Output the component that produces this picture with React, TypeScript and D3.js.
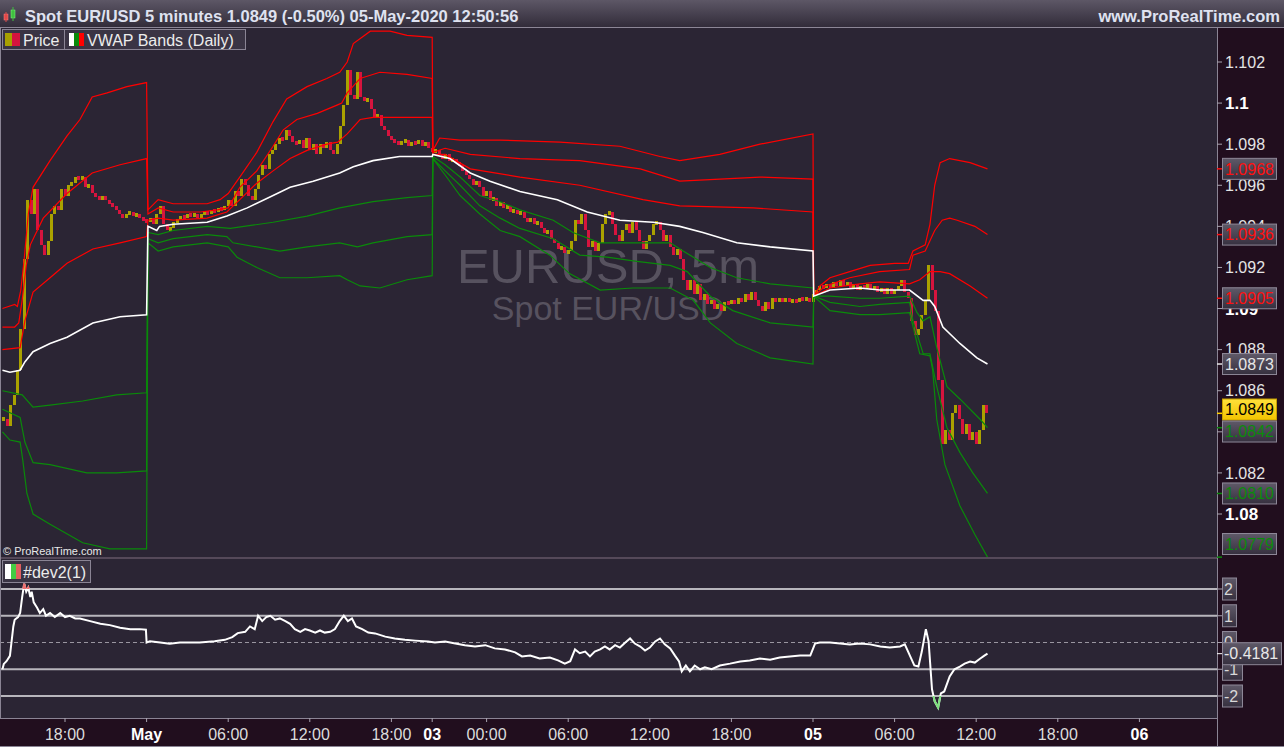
import React from "react";
import * as d3 from "d3";

type Knot = [number, number];

// ---------- DATA ----------
// 15-minute closes (hour index: Apr 30 00:00 = 0, weekend gap removed)
const firstBarHour = 13.5;
const barHours = 0.25;
const closeApr30: number[] = [
  1.0846, 1.0843, 1.0853, 1.0858, 1.087, 1.089, 1.0924, 1.0953, 1.0946, 1.0958,
  1.0938, 1.0931, 1.0926, 1.0933, 1.0946, 1.095, 1.0948, 1.0958, 1.0955, 1.096,
  1.0961, 1.0964, 1.0963, 1.0964, 1.0959, 1.096, 1.0956, 1.0955, 1.0953, 1.0955,
  1.0953, 1.0951, 1.095, 1.0948, 1.0946, 1.0944, 1.0946, 1.0947, 1.0945, 1.0946,
  1.0944, 1.0943,
];
const closeMay1: number[] = [
  1.0942, 1.0944, 1.0941, 1.0946, 1.095, 1.0941, 1.0938, 1.0939, 1.0942, 1.0943,
  1.0945, 1.0944, 1.0946, 1.0945, 1.0946, 1.0944, 1.0946, 1.0947, 1.0946, 1.0948,
  1.0947, 1.0949, 1.0948, 1.095, 1.0953, 1.095, 1.0957, 1.0955, 1.0963, 1.096,
  1.0955, 1.0953, 1.0958, 1.0965, 1.097, 1.0968, 1.0975, 1.0977, 1.098, 1.0983,
  1.0982, 1.0987, 1.0984, 1.0981, 1.098, 1.0982, 1.0978, 1.0983, 1.0977, 1.098,
  1.0975, 1.098, 1.0978, 1.0981, 1.0977, 1.0975, 1.098, 1.0989, 1.0999, 1.1016,
  1.1004, 1.1002, 1.1015, 1.1003, 1.1001, 1.1002, 1.0997, 1.0993, 1.0994, 1.0989,
  1.0987, 1.0984, 1.0982, 1.0981, 1.098, 1.0981, 1.0982, 1.0979, 1.0981, 1.098,
  1.0982, 1.0979, 1.0981, 1.0978,
];
const closeMay3to4: number[] = [
  1.0976, 1.0977, 1.0975, 1.0973, 1.0975, 1.0972, 1.0973, 1.0971, 1.097, 1.0967,
  1.0965, 1.0963, 1.096, 1.0962, 1.0959, 1.0955, 1.0957, 1.0953, 1.0954, 1.095,
  1.0952, 1.0949, 1.095, 1.0947, 1.0948, 1.0946, 1.0947, 1.0944, 1.0942, 1.0944,
  1.0941, 1.0942, 1.0939, 1.0937, 1.0938, 1.0934, 1.0932, 1.0929, 1.093, 1.0927,
  1.0928, 1.0933, 1.0943, 1.0941, 1.0946, 1.0938, 1.093, 1.0933, 1.0928, 1.0932,
  1.0941, 1.0946, 1.0947, 1.0941, 1.0936, 1.0933, 1.0938, 1.0941, 1.0937, 1.0942,
  1.0938, 1.0933, 1.0929, 1.0933, 1.0936, 1.0941, 1.0942, 1.0938, 1.0933, 1.0936,
  1.093, 1.0926, 1.0929, 1.0924, 1.0914, 1.0909, 1.0914, 1.0907, 1.0912, 1.0904,
  1.0907, 1.0902, 1.0904, 1.09, 1.0902, 1.0899, 1.0903, 1.0902, 1.0904, 1.0902,
  1.0905, 1.0903, 1.0907, 1.0904, 1.0908, 1.0904, 1.0901, 1.0899, 1.0903, 1.09,
  1.0905, 1.0903, 1.0905, 1.0903, 1.0905, 1.0903, 1.0904, 1.0903, 1.0905, 1.0904,
  1.0905, 1.0903,
];
const closeMay5: number[] = [
  1.0907, 1.0909, 1.0911, 1.091, 1.0912, 1.091, 1.0913, 1.0911, 1.0914, 1.0911,
  1.0913, 1.091, 1.0912, 1.0909, 1.0911, 1.091, 1.0912, 1.0909, 1.0911, 1.0908,
  1.091, 1.0907, 1.091, 1.0907, 1.0909, 1.0911, 1.0914, 1.0908, 1.0905, 1.0894,
  1.0887, 1.089, 1.0897, 1.0904, 1.0921, 1.0909, 1.0899, 1.0865, 1.0834, 1.0841,
  1.0836, 1.0849, 1.0853, 1.0846, 1.0839, 1.0844, 1.0836, 1.084, 1.0834, 1.0841,
  1.0853, 1.0849,
];

// VWAP bands (daily) – knots [hour, price]
const upperBand3: Knot[] = [
  [13.4, 1.09], [14.3, 1.0902], [14.5, 1.0901], [14.75, 1.0909], [15.0, 1.0924], [15.3, 1.0946], [15.65, 1.0959], [16.9, 1.0972], [18.15, 1.0984], [19.1, 1.0992], [20.0, 1.1003], [21.1, 1.1005], [22.55, 1.1008], [24, 1.101],
  [24.1, 1.0948], [24.85, 1.0953], [25.95, 1.0951], [28.45, 1.0951], [29.4, 1.0953], [30.0, 1.0956], [30.85, 1.0964], [32.1, 1.0976], [33.3, 1.0991], [34.3, 1.1002], [35.8, 1.1008], [37.25, 1.1012], [38.2, 1.1015], [38.75, 1.102], [39.2, 1.1029], [40.45, 1.1035], [41.9, 1.1035], [43.15, 1.1033], [45, 1.1032],
  [45.05, 1.0977], [45.55, 1.0983], [47.05, 1.0982], [50, 1.0982], [54.4, 1.0981], [58.8, 1.0979], [61.75, 1.0974], [63.2, 1.0972], [66.15, 1.0975], [69.1, 1.098], [73, 1.0985],
  [73.05, 1.0906], [73.5, 1.0911], [74.25, 1.0915], [75.7, 1.0918], [77.2, 1.0921], [79.0, 1.0922], [80.0, 1.0922], [80.35, 1.0928], [81.25, 1.0931], [81.6, 1.0941], [81.95, 1.096], [82.35, 1.0971], [83.05, 1.0973], [84.55, 1.0971], [85.83, 1.0968],
];
const upperBand2: Knot[] = [
  [13.4, 1.0891], [14.3, 1.0891], [14.6, 1.0893], [14.85, 1.0904], [15.15, 1.0921], [15.45, 1.0931], [16.4, 1.0944], [18.15, 1.0956], [20.0, 1.0966], [22.05, 1.097], [24, 1.0973],
  [24.1, 1.0946], [24.85, 1.0949], [25.95, 1.0947], [27.95, 1.0947], [29.2, 1.0948], [30.0, 1.0949], [30.85, 1.0959], [32.1, 1.0967], [33.3, 1.0979], [34.05, 1.0987], [35.05, 1.0992], [36.55, 1.0995], [38.0, 1.0999], [38.35, 1.1], [38.75, 1.1005], [39.7, 1.1012], [41.15, 1.1015], [43.15, 1.1014], [45, 1.1012],
  [45.05, 1.0976], [45.95, 1.0978], [47.8, 1.0975], [51.45, 1.0973], [55.85, 1.0972], [60.3, 1.0968], [63.2, 1.0962], [66.15, 1.0963], [69.1, 1.0964], [73, 1.0963],
  [73.05, 1.0906], [73.9, 1.0911], [75.7, 1.0915], [77.9, 1.0918], [80.1, 1.0919], [80.35, 1.0926], [81.25, 1.0928], [81.6, 1.0933], [81.95, 1.0938], [82.5, 1.0943], [83.05, 1.0944], [83.6, 1.0943], [84.9, 1.094], [85.83, 1.0936],
];
const upperBand1: Knot[] = [
  [13.4, 1.088], [14.7, 1.0881], [15.05, 1.0894], [15.65, 1.0908], [16.9, 1.0915], [18.15, 1.0922], [20.05, 1.0929], [22.05, 1.0932], [24, 1.0935],
  [24.1, 1.0943], [24.85, 1.0944], [25.95, 1.0943], [28.45, 1.0944], [29.9, 1.0947], [30.85, 1.0953], [32.1, 1.0961], [33.3, 1.0967], [34.55, 1.0973], [35.8, 1.0977], [37.25, 1.098], [38.05, 1.0981], [38.75, 1.0985], [39.7, 1.0992], [40.65, 1.0993], [42.1, 1.0993], [45, 1.0993],
  [45.05, 1.0975], [45.95, 1.0975], [47.8, 1.0968], [51.45, 1.0964], [55.85, 1.096], [60.5, 1.0953], [63.2, 1.095], [68.6, 1.0949], [73, 1.0947],
  [73.05, 1.0906], [74.25, 1.091], [76.45, 1.0912], [77.9, 1.0913], [80.1, 1.0912], [80.85, 1.0914], [81.6, 1.0918], [82.35, 1.0918], [83.05, 1.0917], [84.55, 1.0911], [85.83, 1.0905],
];
const vwapLine: Knot[] = [
  [13.4, 1.087], [13.95, 1.0869], [14.7, 1.087], [15.05, 1.0874], [15.65, 1.0879], [16.9, 1.0883], [18.15, 1.0886], [20.05, 1.0893], [22.05, 1.0896], [24, 1.0897],
  [24.1, 1.094], [24.75, 1.0938], [24.95, 1.094], [25.95, 1.0941], [28.45, 1.0942], [29.9, 1.0945], [31.4, 1.0949], [33.3, 1.0955], [34.55, 1.0959], [36.25, 1.0962], [38.2, 1.0966], [39.2, 1.0969], [40.65, 1.0972], [42.6, 1.0974], [45, 1.0974],
  [45.05, 1.0975], [46.3, 1.0973], [47.8, 1.0966], [49.25, 1.0962], [51.45, 1.0957], [54.2, 1.0953], [56.4, 1.0947], [58.8, 1.0943], [61.25, 1.0942], [63.2, 1.094], [64.9, 1.0937], [67.4, 1.0932], [69.85, 1.093], [73, 1.0928],
  [73.05, 1.0906], [74.25, 1.0909], [76.45, 1.091], [77.9, 1.0909], [80.1, 1.0909], [81.1, 1.0904], [81.6, 1.0904], [81.95, 1.0901], [82.55, 1.0891], [83.8, 1.0883], [85.05, 1.0876], [85.83, 1.0873],
];
const lowerBand1: Knot[] = [
  [13.4, 1.086], [14.85, 1.0858], [15.65, 1.0852], [16.9, 1.0853], [19.3, 1.0855], [21.8, 1.0858], [24, 1.0859],
  [24.1, 1.0937], [24.85, 1.0936], [25.95, 1.0938], [28.45, 1.094], [30.15, 1.0939], [33.3, 1.0942], [35.8, 1.0945], [38.2, 1.0949], [40.65, 1.0952], [43.15, 1.0954], [45, 1.0955],
  [45.05, 1.0974], [45.95, 1.097], [47.05, 1.0964], [48.5, 1.0955], [50, 1.0952], [51.45, 1.0948], [53.9, 1.0943], [55.35, 1.0937], [57.35, 1.0932], [59.75, 1.0932], [62.5, 1.0932], [63.45, 1.0928], [65.45, 1.092], [67.4, 1.0915], [69.85, 1.0912], [73, 1.091],
  [73.05, 1.0906], [74.25, 1.0906], [76.45, 1.0905], [77.9, 1.0905], [80.1, 1.0906], [80.65, 1.0898], [81.1, 1.0894], [81.6, 1.0896], [82.1, 1.0881], [82.85, 1.0862], [83.8, 1.0856], [85.3, 1.0846], [85.83, 1.0842],
];
const lowerBand2: Knot[] = [
  [13.4, 1.0851], [14.7, 1.0847], [15.05, 1.0835], [15.65, 1.0825], [16.9, 1.0824], [19.6, 1.082], [21.8, 1.082], [24, 1.0821],
  [24.1, 1.0934], [24.85, 1.0932], [25.95, 1.0934], [28.45, 1.0936], [29.9, 1.0935], [30.35, 1.0932], [32.1, 1.093], [33.8, 1.0928], [35.8, 1.093], [38.2, 1.0932], [39.5, 1.093], [40.65, 1.0932], [43.15, 1.0935], [45, 1.0936],
  [45.05, 1.0973], [45.95, 1.0967], [47.05, 1.096], [48.5, 1.095], [50, 1.0944], [51.45, 1.0939], [53.9, 1.0934], [55.85, 1.0926], [57.85, 1.0925], [60.05, 1.0923], [62.5, 1.0921], [63.75, 1.0918], [65.45, 1.0906], [67.1, 1.0899], [69.85, 1.0893], [73, 1.0891],
  [73.05, 1.0906], [74.25, 1.0903], [76.45, 1.0901], [77.9, 1.0902], [80.1, 1.0903], [80.35, 1.0894], [81.1, 1.0878], [81.6, 1.0878], [82.1, 1.0862], [82.85, 1.0842], [83.8, 1.083], [84.75, 1.082], [85.83, 1.081],
];
const lowerBand3: Knot[] = [
  [13.4, 1.084], [13.95, 1.0836], [14.7, 1.0835], [14.9, 1.0826], [15.2, 1.081], [15.65, 1.08], [16.9, 1.0795], [19.3, 1.0786], [21.3, 1.0783], [24, 1.0783],
  [24.1, 1.0932], [24.85, 1.0928], [25.95, 1.093], [28.45, 1.0932], [30.0, 1.093], [30.65, 1.0925], [32.1, 1.092], [33.8, 1.0915], [35.8, 1.0915], [38.2, 1.0916], [38.75, 1.0914], [39.7, 1.0911], [41.15, 1.091], [43.15, 1.0914], [45, 1.0916],
  [45.05, 1.0973], [45.95, 1.0965], [47.05, 1.0955], [48.5, 1.0946], [50, 1.0938], [51.45, 1.0935], [53.65, 1.0926], [55.1, 1.0917], [57.35, 1.0909], [59.75, 1.091], [62.5, 1.091], [64.2, 1.0904], [65.45, 1.0893], [67.4, 1.0883], [69.85, 1.0876], [73, 1.0873],
  [73.05, 1.0906], [74.25, 1.0899], [76.45, 1.0897], [77.9, 1.0897], [80.1, 1.0898], [80.85, 1.0878], [81.6, 1.0877], [81.8, 1.087], [82.1, 1.0846], [82.7, 1.0824], [83.8, 1.0804], [84.9, 1.079], [85.83, 1.0779],
];

// #dev2(1) indicator – knots [hour, value]
const dev2: Knot[] = [
  [13.4, -1.0], [13.5, -0.8], [13.7, -0.7], [13.95, -0.5], [14.2, 0.6], [14.3, 0.85], [14.55, 0.95], [14.7, 1.1], [14.85, 1.7], [15.0, 2.2], [15.15, 1.9], [15.3, 2.05], [15.45, 1.7], [15.55, 1.9], [15.7, 1.5], [15.95, 1.3], [16.15, 1.1], [16.4, 1.25], [16.6, 1.0], [16.9, 1.1], [17.25, 0.95], [17.65, 1.1], [18.0, 0.95], [18.35, 1.0], [18.75, 0.9], [19.1, 0.9], [19.85, 0.8], [20.6, 0.7], [21.3, 0.65], [22.05, 0.55], [22.8, 0.5], [23.5, 0.5], [23.95, 0.48], [24.0, 0],
  [24.25, 0.05], [25.0, 0], [25.7, -0.05], [26.45, 0], [27.9, 0], [29.0, 0.05], [29.75, 0.1], [30.3, 0.2], [30.7, 0.35], [31.25, 0.4], [31.6, 0.6], [31.95, 0.5], [32.2, 1.0], [32.5, 0.8], [32.8, 0.95], [33.1, 1.0], [33.45, 0.85], [33.8, 0.9], [34.2, 0.8], [34.55, 0.7], [34.9, 0.5], [35.3, 0.4], [35.65, 0.5], [36.0, 0.45], [36.4, 0.37], [36.75, 0.45], [37.1, 0.37], [37.5, 0.4], [37.85, 0.5], [38.2, 0.8], [38.5, 1.0], [38.8, 0.8], [39.1, 0.9], [39.4, 0.6], [39.85, 0.5], [40.3, 0.37], [40.8, 0.34], [41.55, 0.22], [42.25, 0.15], [43.0, 0.1], [43.75, 0.07], [44.7, 0.04],
  [45.2, 0], [45.95, 0.04], [46.7, -0.04], [47.4, -0.1], [48.15, -0.15], [48.9, -0.1], [49.6, -0.22], [50.35, -0.26], [51.1, -0.37], [51.6, -0.52], [52.2, -0.49], [52.9, -0.6], [53.65, -0.56], [54.25, -0.67], [54.75, -0.79], [55.15, -0.7], [55.5, -0.26], [55.85, -0.4], [56.25, -0.34], [56.6, -0.52], [56.95, -0.34], [57.35, -0.26], [57.7, -0.15], [58.05, -0.26], [58.45, -0.1], [58.8, -0.19], [59.2, 0], [59.55, 0.15], [59.9, -0.04], [60.3, -0.15], [60.65, -0.3], [61.0, -0.19], [61.4, 0.04], [61.75, 0.15], [62.1, -0.07], [62.5, -0.22], [62.85, -0.49], [63.15, -0.71], [63.35, -1.08], [63.65, -0.86], [63.95, -1.08], [64.3, -0.86], [64.7, -1.0], [65.05, -0.93], [65.55, -1.0], [66.15, -0.86], [66.9, -0.79], [67.65, -0.71], [68.35, -0.67], [69.1, -0.6], [69.85, -0.64], [70.55, -0.56], [71.3, -0.52], [72.05, -0.49], [72.8, -0.49],
  [73.15, -0.04], [73.5, 0], [74.25, 0], [75.0, -0.04], [75.7, -0.07], [76.45, -0.04], [77.2, -0.07], [77.95, -0.15], [78.65, -0.19], [79.4, -0.15], [79.75, -0.07], [80.15, -0.52], [80.45, -0.86], [80.75, -0.9], [81.0, -0.34], [81.3, 0.5], [81.5, 0.04], [81.75, -1.75], [81.95, -2.2], [82.2, -2.43], [82.4, -1.9], [82.65, -1.83], [83.05, -1.27], [83.4, -1.0], [83.8, -0.9], [84.15, -0.79], [84.55, -0.71], [84.9, -0.75], [85.3, -0.6], [85.6, -0.49], [85.83, -0.4181],
];

const priceTicks = [1.08, 1.082, 1.084, 1.086, 1.088, 1.09, 1.092, 1.094, 1.096, 1.098, 1.1, 1.102];
const timeTickHours = [18, 24, 30, 36, 42, 45, 49, 55, 61, 67, 73, 79, 85, 91, 97];
const timeTickLabels = ["18:00", "May", "06:00", "12:00", "18:00", "03", "00:00", "06:00", "12:00", "18:00", "05", "06:00", "12:00", "18:00", "06"];
const boldTimeLabels = ["May", "03", "05", "06"];
const devLevels = [2, 1, 0, -1, -2];

const FONT = "'Liberation Sans', Arial, Helvetica, sans-serif";

export default function App() {
  const W = 1284, H = 747;
  const plotR = 1217;
  const mainTop = 28, mainBot = 557, subTop = 559, subBot = 718;

  const x = d3.scaleLinear().domain([18, 97]).range([65, 1139.4]);
  const y = d3.scaleLinear().domain([1.08, 1.102]).range([514, 62]);
  const yd = d3.scaleLinear().domain([-2, 2]).range([696, 589]);

  const closes = [...closeApr30, ...closeMay1, ...closeMay3to4, ...closeMay5];
  const bars = closes.map((c, i) => ({ h: firstBarHour + i * barHours, o: i ? closes[i - 1] : c, c }));
  const lastClose = closes[closes.length - 1];

  const line = d3.line<Knot>().x((d) => x(d[0])).y((d) => y(d[1]));
  const devLine = d3.line<Knot>().x((d) => x(d[0])).y((d) => yd(d[1]));

  const RED = "#ff0000", GREEN = "#0a8a0a";
  const bands = [
    { data: upperBand3, color: RED, w: 1.2 },
    { data: upperBand2, color: RED, w: 1.2 },
    { data: upperBand1, color: RED, w: 1.2 },
    { data: lowerBand1, color: GREEN, w: 1.2 },
    { data: lowerBand2, color: GREEN, w: 1.2 },
    { data: lowerBand3, color: GREEN, w: 1.2 },
    { data: vwapLine, color: "#ffffff", w: 1.6 },
  ];

  const lastOf = (k: Knot[]) => k[k.length - 1][1];
  type Tag = { v: number; fg: string; yellow?: boolean; cy: number };
  const tags: Tag[] = [
    { v: lastOf(upperBand3), fg: "#ff1010", cy: 0 },
    { v: lastOf(upperBand2), fg: "#ff1010", cy: 0 },
    { v: lastOf(upperBand1), fg: "#ff1010", cy: 0 },
    { v: lastOf(vwapLine), fg: "#e6e6e6", cy: 0 },
    { v: lastClose, fg: "#000000", yellow: true, cy: 0 },
    { v: lastOf(lowerBand1), fg: "#0c8a0c", cy: 0 },
    { v: lastOf(lowerBand2), fg: "#0c8a0c", cy: 0 },
    { v: lastOf(lowerBand3), fg: "#0c8a0c", cy: 0 },
  ];
  tags.forEach((t) => (t.cy = y(t.v)));
  tags.sort((a, b) => a.cy - b.cy);
  const TH = 22;
  for (let it = 0; it < 10; it++) {
    for (let i = 1; i < tags.length; i++) {
      const a = tags[i - 1], b = tags[i];
      if (b.cy - a.cy < TH) {
        const m = (a.cy + b.cy) / 2;
        a.cy = m - TH / 2;
        b.cy = m + TH / 2;
      }
    }
    const maxC = mainBot - 2 - TH / 2;
    if (tags[tags.length - 1].cy > maxC) tags[tags.length - 1].cy = maxC;
  }

  const devLast = lastOf(dev2);

  return (
    <div style={{ position: "absolute", left: 0, top: 0, width: W, height: H }}>
      <svg width={W} height={H} style={{ display: "block", fontFamily: FONT }}>
        <defs>
          <linearGradient id="titleG" x1="0" y1="0" x2="0" y2="1">
            <stop offset="0" stopColor="#5d5766" />
            <stop offset="1" stopColor="#302a38" />
          </linearGradient>
          <linearGradient id="boxG" x1="0" y1="0" x2="0" y2="1">
            <stop offset="0" stopColor="#5f5968" />
            <stop offset="1" stopColor="#36303f" />
          </linearGradient>
          <linearGradient id="yelG" x1="0" y1="0" x2="0" y2="1">
            <stop offset="0" stopColor="#ffe03a" />
            <stop offset="1" stopColor="#f2c400" />
          </linearGradient>
          <clipPath id="mainClip">
            <rect x={1} y={mainTop + 1} width={plotR - 1} height={mainBot - mainTop - 1} />
          </clipPath>
          <clipPath id="subClip">
            <rect x={1} y={subTop} width={plotR - 1} height={subBot - subTop} />
          </clipPath>
          <clipPath id="hiClip">
            <rect x={0} y={subTop} width={plotR} height={yd(2) - subTop} />
          </clipPath>
          <clipPath id="loClip">
            <rect x={0} y={yd(-2)} width={plotR} height={subBot - yd(-2)} />
          </clipPath>
        </defs>

        {/* backgrounds */}
        <rect x={0} y={0} width={W} height={H} fill="#210e1e" />
        <rect x={0} y={mainTop} width={plotR} height={mainBot - mainTop} fill="#2b2534" />
        <rect x={0} y={subTop} width={plotR} height={subBot - subTop} fill="#2b2534" />
        <line x1={0} x2={plotR} y1={mainBot + 1} y2={mainBot + 1} stroke="#8a8494" strokeWidth={1} />
        <line x1={0.5} x2={0.5} y1={mainTop} y2={subBot} stroke="#8a8494" strokeWidth={1} />

        {/* title bar */}
        <rect x={0} y={0} width={W} height={mainTop} fill="url(#titleG)" />
        <line x1={0} x2={W} y1={mainTop - 0.5} y2={mainTop - 0.5} stroke="#8c8696" />
        <rect x={4} y={14} width={4} height={6} fill="#e04848" stroke="#ff8080" strokeWidth={0.5} />
        <line x1={6} x2={6} y1={12} y2={22} stroke="#e04848" />
        <rect x={11} y={10} width={4} height={8} fill="#40c040" stroke="#80ff80" strokeWidth={0.5} />
        <line x1={13} x2={13} y1={7} y2={21} stroke="#40c040" />
        <text x={25} y={22} fontSize={16.5} fontWeight="bold" fill="#dfe2f0">
          Spot EUR/USD 5 minutes 1.0849 (-0.50%) 05-May-2020 12:50:56
        </text>
        <text x={1280} y={22} fontSize={16.5} fontWeight="bold" fill="#dfe2f0" textAnchor="end">
          www.ProRealTime.com
        </text>

        {/* watermark */}
        <text x={608} y={283} fontSize={49} fill="#57525f" textAnchor="middle">EURUSD, 5m</text>
        <text x={608} y={320} fontSize={34} fill="#57525f" textAnchor="middle">Spot EUR/USD</text>

        {/* price bars */}
        <g clipPath="url(#mainClip)" shapeRendering="crispEdges">
          {bars.map((b, i) => {
            const y1 = y(Math.max(b.o, b.c));
            const y2 = y(Math.min(b.o, b.c));
            const hgt = Math.max(4, y2 - y1);
            return (
              <rect
                key={i}
                x={x(b.h) - 1.5}
                y={y1 - (hgt - (y2 - y1)) / 2}
                width={3}
                height={hgt}
                fill={b.c >= b.o ? "#aaa200" : "#d6143e"}
              />
            );
          })}
        </g>

        {/* bands */}
        <g clipPath="url(#mainClip)" fill="none">
          {bands.map((b, i) => (
            <path key={i} d={line(b.data) || ""} stroke={b.color} strokeWidth={b.w} />
          ))}
        </g>

        {/* legend main */}
        <rect x={2.5} y={29.5} width={62} height={20} fill="#3a3444" stroke="#8a8494" />
        <rect x={5} y={33} width={7} height={13} fill="#a8a000" />
        <rect x={12} y={33} width={8} height={13} fill="#d6143e" />
        <text x={23} y={46} fontSize={16} fill="#ececec">Price</text>
        <rect x={64.5} y={29.5} width={181} height={20} fill="#3a3444" stroke="#8a8494" />
        <rect x={69} y={33} width={5} height={13} fill="#ffffff" />
        <rect x={74} y={33} width={5} height={13} fill="#0a8a0a" />
        <rect x={79} y={33} width={5} height={13} fill="#ff0000" />
        <text x={87} y={46} fontSize={16} fill="#ececec">VWAP Bands (Daily)</text>

        <text x={3} y={555} fontSize={11} fill="#e8e8e8">© ProRealTime.com</text>

        {/* sub panel */}
        <g clipPath="url(#subClip)">
          {devLevels.map((lv) => (
            <line
              key={lv}
              x1={0}
              x2={plotR}
              y1={yd(lv)}
              y2={yd(lv)}
              stroke={lv === 0 ? "#9a96a0" : "#b8b6bc"}
              strokeWidth={lv === 0 ? 1 : 2}
              strokeDasharray={lv === 0 ? "4,3" : undefined}
            />
          ))}
          <path d={devLine(dev2) || ""} fill="none" stroke="#ffffff" strokeWidth={2} />
          <path d={devLine(dev2) || ""} fill="none" stroke="#f07070" strokeWidth={2} clipPath="url(#hiClip)" />
          <path d={devLine(dev2) || ""} fill="none" stroke="#7ee07e" strokeWidth={2} clipPath="url(#loClip)" />
        </g>
        <rect x={2.5} y={560.5} width={88} height={22} fill="#3a3444" stroke="#8a8494" />
        <rect x={5} y={564} width={6} height={15} fill="#ffffff" />
        <rect x={11} y={564} width={5} height={15} fill="#44cc44" />
        <rect x={16} y={564} width={5} height={15} fill="#e06060" />
        <text x={23} y={578} fontSize={16} fill="#ececec">#dev2(1)</text>

        {/* axes lines */}
        <line x1={plotR + 0.5} x2={plotR + 0.5} y1={mainTop} y2={H} stroke="#8a8494" />
        <line x1={0} x2={plotR} y1={subBot + 0.5} y2={subBot + 0.5} stroke="#8a8494" />
        <line x1={0} x2={W} y1={H - 0.5} y2={H - 0.5} stroke="#8a8494" />

        {/* right price axis */}
        {priceTicks.map((v) => {
          const bold = Math.abs(v * 100 - Math.round(v * 100)) < 1e-6;
          return (
            <g key={v}>
              <line x1={plotR} x2={plotR + 5} y1={y(v)} y2={y(v)} stroke="#a8a4b0" />
              <text
                x={plotR + 8}
                y={y(v)}
                dy="0.36em"
                fontSize={bold ? 17 : 16}
                fontWeight={bold ? "bold" : "normal"}
                fill={bold ? "#ffffff" : "#e4e4e4"}
              >
                {String(Number(v.toFixed(3)))}
              </text>
            </g>
          );
        })}
        {tags.map((t, i) => (
          <g key={i}>
            <line x1={plotR} x2={plotR + 5} y1={y(t.v)} y2={y(t.v)} stroke={t.yellow ? "#ffd000" : t.fg} strokeWidth={1.5} />
            <rect
              x={plotR + 5.5}
              y={t.cy - TH / 2 + 0.5}
              width={54}
              height={TH - 1}
              fill={t.yellow ? "url(#yelG)" : "url(#boxG)"}
              stroke={t.yellow ? "#c8a000" : "#8d8797"}
            />
            <text x={plotR + 8} y={t.cy} dy="0.36em" fontSize={16} fill={t.fg}>
              {t.v.toFixed(4)}
            </text>
          </g>
        ))}

        {/* right dev axis */}
        {devLevels.map((lv) => {
          const label = String(lv);
          const wdt = 5 + 9 * label.replace("-", "").length + (lv < 0 ? 6 : 0);
          return (
            <g key={lv}>
              <line x1={plotR} x2={plotR + 5} y1={yd(lv)} y2={yd(lv)} stroke="#a8a4b0" />
              <rect x={plotR + 5.5} y={yd(lv) - 11} width={wdt} height={22} fill="url(#boxG)" stroke="#8d8797" />
              <text x={plotR + 7} y={yd(lv)} dy="0.36em" fontSize={16} fill="#d8d8d8">{label}</text>
            </g>
          );
        })}
        <g>
          <line x1={plotR} x2={plotR + 5} y1={yd(devLast)} y2={yd(devLast)} stroke="#ffffff" />
          <rect x={plotR + 5.5} y={yd(devLast) - 11} width={59} height={22} fill="url(#boxG)" stroke="#8d8797" />
          <text x={plotR + 7} y={yd(devLast)} dy="0.36em" fontSize={16} fill="#e8e8e8">{devLast.toFixed(4)}</text>
        </g>

        {/* time axis */}
        {timeTickHours.map((h, i) => {
          const lab = timeTickLabels[i];
          const bold = boldTimeLabels.includes(lab);
          return (
            <g key={i}>
              <line x1={x(h)} x2={x(h)} y1={subBot} y2={subBot + 4} stroke="#a8a4b0" />
              <text
                x={x(h)}
                y={740}
                textAnchor="middle"
                fontSize={16}
                fontWeight={bold ? "bold" : "normal"}
                fill={bold ? "#ffffff" : "#dcdcdc"}
              >
                {lab}
              </text>
            </g>
          );
        })}
      </svg>
    </div>
  );
}
